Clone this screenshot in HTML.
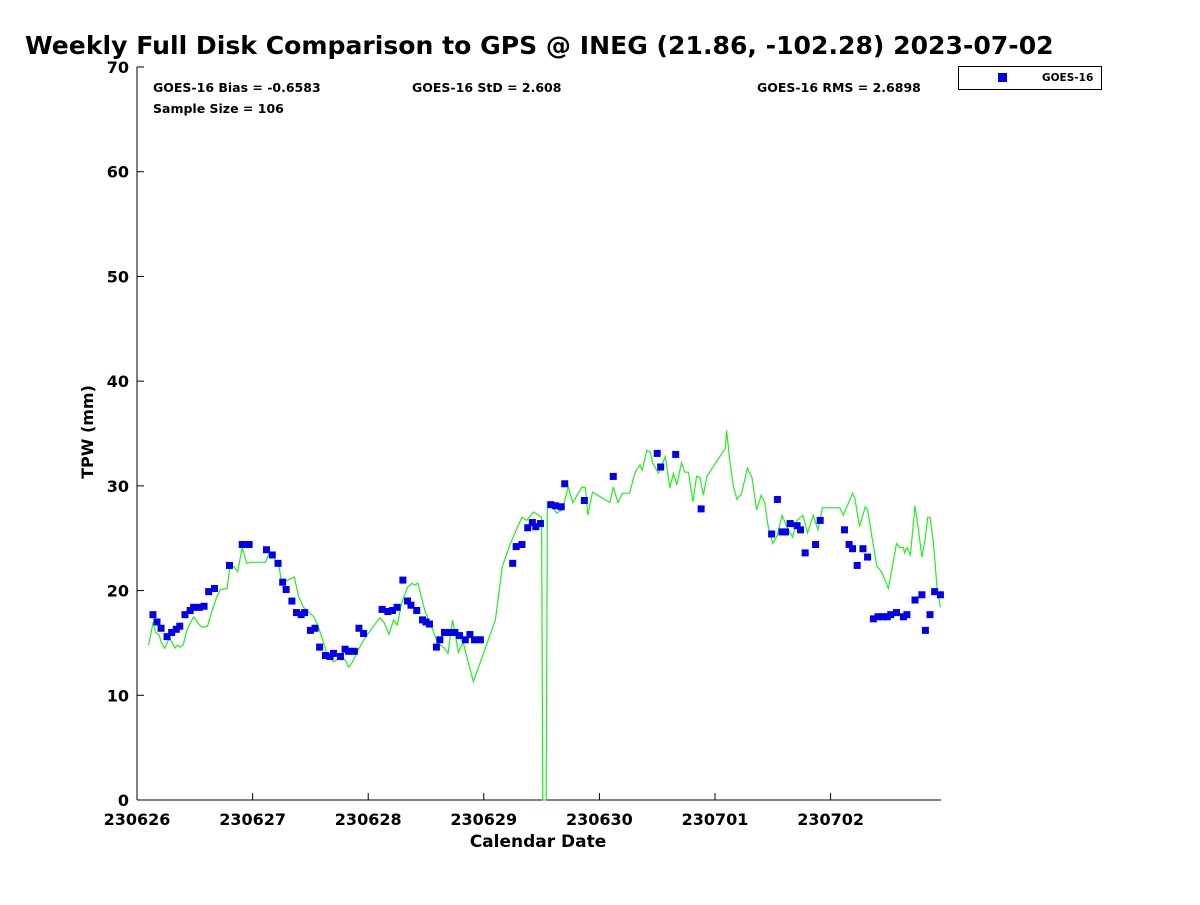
<!DOCTYPE html>
<html><head><meta charset="utf-8"><style>
body{margin:0;background:#fff;font-family:"Liberation Sans","DejaVu Sans",sans-serif;}
svg text{font-family:"DejaVu Sans","Liberation Sans",sans-serif;font-weight:bold;}
</style></head><body>
<svg id="chart" width="1200" height="900" viewBox="0 0 1200 900" xmlns="http://www.w3.org/2000/svg">
<rect width="1200" height="900" fill="#fff"/>
<text x="25" y="54" font-size="25.1">Weekly Full Disk Comparison to GPS @ INEG (21.86, -102.28) 2023-07-02</text>
<text x="153" y="92" font-size="12.5">GOES-16 Bias = -0.6583</text>
<text x="153" y="113" font-size="12.5">Sample Size = 106</text>
<text x="412" y="92" font-size="12.5">GOES-16 StD = 2.608</text>
<text x="757" y="92" font-size="12.5">GOES-16 RMS = 2.6898</text>
<g>
<rect x="958.5" y="66.5" width="143" height="23" fill="#fff" stroke="#000" stroke-width="1"/>
<rect x="998" y="73" width="9" height="9" fill="#0000ee"/>
<text x="1042" y="81" font-size="10.5">GOES-16</text>
</g>
<text transform="translate(93,432) rotate(-90)" text-anchor="middle" font-size="16">TPW (mm)</text>
<text x="538" y="847" text-anchor="middle" font-size="17">Calendar Date</text>
<g id="axes"></g>
<g id="plot"></g>
</svg>
<script>
const xTickLabels=["230626","230627","230628","230629","230630","230701","230702"];
const yTickValues=[0,10,20,30,40,50,60,70];
const goesDays=[0.138,0.173,0.208,0.26,0.30,0.34,0.37,0.415,0.46,0.49,0.54,0.58,0.62,0.67,0.80,0.91,0.97,1.12,1.17,1.22,1.26,1.29,1.34,1.38,1.42,1.45,1.50,1.54,1.58,1.63,1.67,1.70,1.76,1.80,1.83,1.88,1.92,1.96,2.12,2.17,2.21,2.25,2.30,2.34,2.37,2.42,2.47,2.50,2.53,2.59,2.62,2.66,2.71,2.75,2.79,2.84,2.88,2.92,2.97,3.25,3.28,3.33,3.38,3.42,3.45,3.49,3.58,3.62,3.67,3.70,3.87,4.12,4.50,4.53,4.66,4.88,5.49,5.54,5.58,5.61,5.65,5.71,5.74,5.78,5.87,5.91,6.12,6.16,6.19,6.23,6.28,6.32,6.37,6.41,6.45,6.49,6.52,6.57,6.63,6.66,6.73,6.79,6.82,6.86,6.90,6.95];
const goesTpw=[17.7,17.0,16.4,15.6,16.0,16.3,16.6,17.7,18.1,18.4,18.4,18.5,19.9,20.2,22.4,24.4,24.4,23.9,23.4,22.6,20.8,20.1,19.0,17.9,17.7,17.9,16.2,16.4,14.6,13.8,13.7,14.0,13.7,14.4,14.2,14.2,16.4,15.9,18.2,18.0,18.1,18.4,21.0,19.0,18.6,18.1,17.2,17.0,16.8,14.6,15.3,16.0,16.0,16.0,15.7,15.3,15.8,15.3,15.3,22.6,24.2,24.4,26.0,26.5,26.1,26.4,28.2,28.1,28.0,30.2,28.6,30.9,33.1,31.8,33.0,27.8,25.4,28.7,25.6,25.6,26.4,26.2,25.8,23.6,24.4,26.7,25.8,24.4,24.0,22.4,24.0,23.2,17.3,17.5,17.5,17.5,17.7,17.9,17.5,17.7,19.1,19.6,16.2,17.7,19.9,19.6];
const gpsDays=[0.10,0.14,0.16,0.19,0.21,0.24,0.28,0.30,0.33,0.35,0.37,0.40,0.43,0.49,0.52,0.56,0.61,0.65,0.69,0.72,0.78,0.80,0.84,0.87,0.91,0.95,0.98,1.11,1.15,1.19,1.20,1.23,1.25,1.36,1.40,1.44,1.53,1.57,1.62,1.64,1.70,1.76,1.80,1.83,1.86,1.90,1.96,2.10,2.14,2.18,2.22,2.25,2.29,2.34,2.38,2.40,2.43,2.49,2.55,2.60,2.66,2.69,2.73,2.78,2.82,2.91,3.10,3.16,3.23,3.33,3.37,3.43,3.50,3.51,3.54,3.55,3.57,3.63,3.68,3.73,3.77,3.85,3.88,3.90,3.94,4.09,4.12,4.16,4.20,4.26,4.31,4.35,4.37,4.41,4.44,4.46,4.51,4.57,4.61,4.64,4.67,4.71,4.74,4.77,4.81,4.84,4.87,4.90,4.93,5.09,5.10,5.13,5.16,5.19,5.23,5.28,5.32,5.36,5.40,5.43,5.46,5.50,5.54,5.58,5.62,5.67,5.71,5.76,5.80,5.85,5.89,5.93,6.08,6.11,6.19,6.21,6.25,6.30,6.32,6.40,6.44,6.50,6.57,6.60,6.63,6.64,6.66,6.69,6.73,6.76,6.79,6.82,6.84,6.86,6.89,6.92,6.95];
const gpsTpw=[14.8,17.0,16.0,15.8,15.0,14.5,15.5,15.1,14.5,14.8,14.6,14.8,16.2,17.5,17.0,16.5,16.6,18.1,19.4,20.1,20.2,22.0,22.3,21.8,24.1,22.6,22.7,22.7,23.7,23.2,22.4,22.3,20.7,21.3,19.4,18.4,17.5,16.5,14.8,14.0,13.2,13.6,13.4,12.7,13.1,14.0,15.3,17.4,16.9,15.8,17.2,16.7,18.8,20.3,20.7,20.5,20.7,18.1,16.5,15.0,14.5,14.0,17.2,14.1,15.1,11.3,17.2,22.3,24.5,27.0,26.7,27.5,27.0,0,0,28.4,28.5,27.4,27.7,29.9,28.4,29.9,29.8,27.2,29.4,28.4,29.9,28.4,29.3,29.3,31.3,32.0,31.5,33.4,33.2,32.2,31.2,32.8,29.8,31.2,30.1,32.2,31.3,31.3,28.5,30.9,30.8,29.1,30.9,33.6,35.3,32.2,29.9,28.7,29.3,31.7,30.8,27.7,29.1,28.4,26.1,24.5,25.3,27.2,26.1,25.1,26.7,27.2,25.5,27.2,25.8,27.9,27.9,27.2,29.3,28.8,26.1,28.0,27.7,22.3,21.8,20.2,24.5,24.1,24.1,23.6,24.1,23.4,28.1,25.8,23.2,25.1,27.0,27.0,24.5,20.3,18.4];

const NS="http://www.w3.org/2000/svg";
const X0=137,X1=941,Y0=800,Y1=67;
const xs=d=>X0+d*115.6;
const ys=v=>Y0-(v/70)*(Y0-Y1);
function mk(tag,attrs,parent){const e=document.createElementNS(NS,tag);for(const k in attrs)e.setAttribute(k,attrs[k]);parent.appendChild(e);return e;}
const axes=document.getElementById('axes'),plot=document.getElementById('plot');
const ya=mk('line',{x1:X0,y1:Y1,x2:X0,y2:Y0,stroke:'#000','stroke-width':1},axes);


const xa=mk('line',{x1:X0,y1:Y0,x2:X1,y2:Y0,stroke:'#000','stroke-width':1},axes);


yTickValues.forEach(v=>{
 const y=ys(v);
 const t=mk('line',{x1:X0,y1:y,x2:X0+7,y2:y,stroke:'#000'},axes);
 
 
 const l=mk('text',{x:X0-8,y:y+6,'text-anchor':'end','font-size':16},axes);
 
 
 l.textContent=v;
});
xTickLabels.forEach((s,i)=>{
 const x=xs(i);
 const t=mk('line',{x1:x,y1:Y0,x2:x,y2:Y0-7,stroke:'#000'},axes);
 
 
 const l=mk('text',{x:x,y:825,'text-anchor':'middle','font-size':16},axes);
 
 
 l.textContent=s;
});
const pts=gpsDays.map((d,i)=>xs(d).toFixed(1)+','+ys(gpsTpw[i]).toFixed(1)).join(' ');
const line=mk('polyline',{points:pts,fill:'none',stroke:'#22ee22','stroke-width':1.2},plot);


goesDays.forEach((d,i)=>{
 const r=mk('rect',{x:xs(d)-3.5,y:ys(goesTpw[i])-3.5,width:7,height:7,fill:'#0000ee'},plot);
 
 
});
</script>
</body></html>
